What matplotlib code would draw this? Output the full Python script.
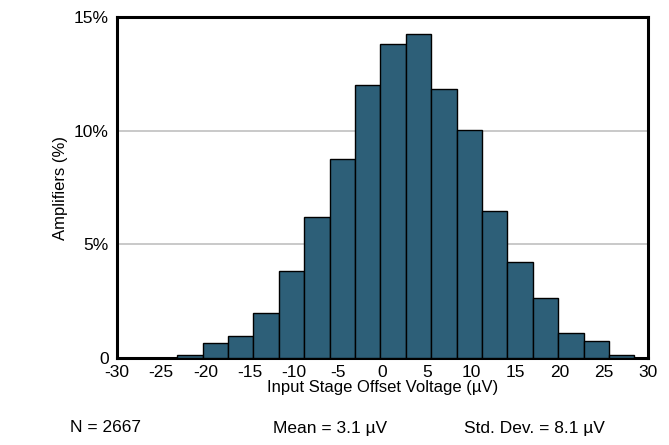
import matplotlib
matplotlib.use('Agg')
import matplotlib.pyplot as plt
import numpy as np

plt.rcParams['font.family'] = ['Liberation Sans', 'DejaVu Sans']
plt.rcParams['axes.unicode_minus'] = False

bin_left = -23.2
bin_width = 2.87
heights = [0.13, 0.66, 0.97, 2.0, 3.83, 6.2, 8.77, 12.0, 13.8, 14.27,
           11.85, 10.04, 6.47, 4.23, 2.64, 1.1, 0.75, 0.13]
xticks = list(range(-30, 31, 5))
yticks = [0, 5, 10, 15]
ytick_labels = ["0", "5%", "10%", "15%"]

fig = plt.figure(figsize=(6.69, 4.45), dpi=100)
ax = fig.add_axes([117/669, 1 - 358/445, 531/669, 341/445])

lefts = bin_left + bin_width * np.arange(len(heights))
ax.bar(lefts, heights, width=bin_width, align='edge', color='#2d5f78',
       edgecolor='black', linewidth=1.0, zorder=3)

ax.set_xlim(-30, 30)
ax.set_ylim(0, 15)
ax.set_xticks(xticks)
ax.set_yticks(yticks)
ax.set_yticklabels(ytick_labels)
ax.tick_params(axis='x', length=0, labelsize=12.5, pad=5)
ax.tick_params(axis='y', length=0, labelsize=12.5, pad=6)
ax.yaxis.grid(True, color='#c0c0c0', linewidth=1.2, zorder=0)
for s in ax.spines.values():
    s.set_linewidth(2.2)
ax.set_xlabel("Input Stage Offset Voltage (\u00b5V)", fontsize=12, labelpad=0)
ax.set_ylabel("Amplifiers (%)", fontsize=12)

fig.text(70/669, 1 - 428/445, "N = 2667", fontsize=12.5, va='center')
fig.text(273/669, 1 - 428/445, "Mean = 3.1 \u00b5V", fontsize=12.5, va='center')
fig.text(464/669, 1 - 428/445, "Std. Dev. = 8.1 \u00b5V", fontsize=12.5, va='center')

plt.savefig("out.png", dpi=100)
